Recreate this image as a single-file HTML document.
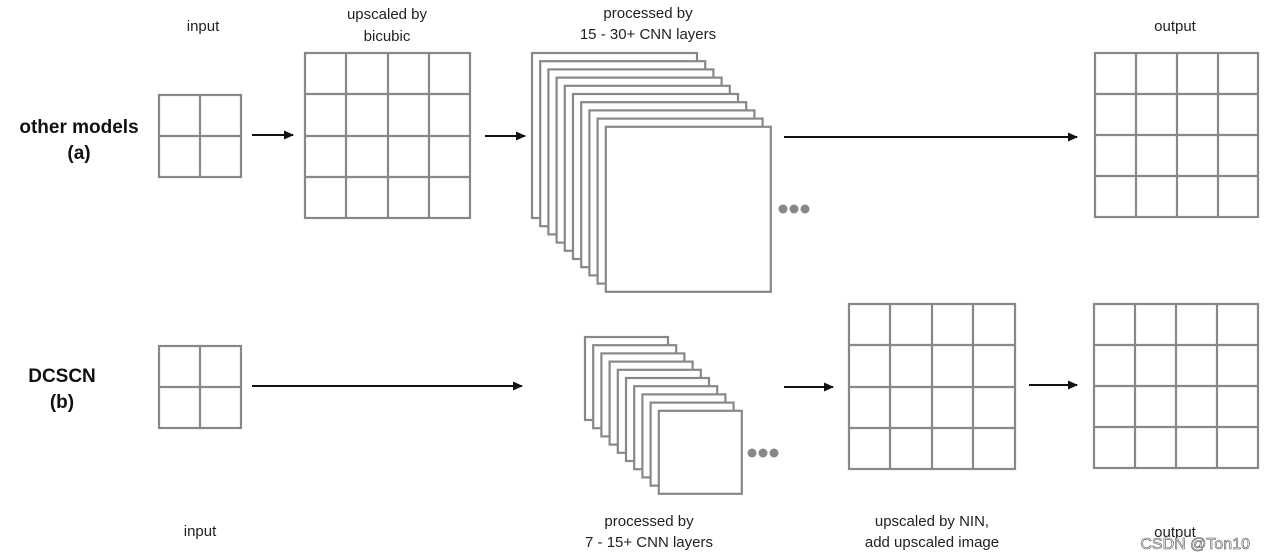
<!DOCTYPE html>
<html><head><style>
body{margin:0;background:#fff;}
svg{display:block;font-family:"Liberation Sans",sans-serif;}
</style></head><body>
<svg width="1267" height="560" viewBox="0 0 1267 560" xmlns="http://www.w3.org/2000/svg">
<defs>
<marker id="ah" markerWidth="10" markerHeight="10" refX="9" refY="5" orient="auto" markerUnits="userSpaceOnUse"><path d="M0,0.5 L10,5 L0,9.5 z" fill="#111"/></marker>
</defs>
<g fill="none" stroke="#888" stroke-width="2.2">
<!-- top input 2x2 -->
<rect x="159" y="95" width="82" height="82"/><line x1="200" y1="95" x2="200" y2="177"/><line x1="159" y1="136" x2="241" y2="136"/>
<!-- bottom input -->
<rect x="159" y="346" width="82" height="82"/><line x1="200" y1="346" x2="200" y2="428"/><line x1="159" y1="387" x2="241" y2="387"/>
<!-- upscaled 4x4 -->
<rect x="305" y="53" width="165" height="165"/>
<line x1="346" y1="53" x2="346" y2="218"/><line x1="388" y1="53" x2="388" y2="218"/><line x1="429" y1="53" x2="429" y2="218"/>
<line x1="305" y1="94" x2="470" y2="94"/><line x1="305" y1="136" x2="470" y2="136"/><line x1="305" y1="177" x2="470" y2="177"/>
<!-- top output -->
<rect x="1095" y="53" width="163" height="164"/>
<line x1="1136" y1="53" x2="1136" y2="217"/><line x1="1177" y1="53" x2="1177" y2="217"/><line x1="1218" y1="53" x2="1218" y2="217"/>
<line x1="1095" y1="94" x2="1258" y2="94"/><line x1="1095" y1="135" x2="1258" y2="135"/><line x1="1095" y1="176" x2="1258" y2="176"/>
<!-- NIN grid -->
<rect x="849" y="304" width="166" height="165"/>
<line x1="890" y1="304" x2="890" y2="469"/><line x1="932" y1="304" x2="932" y2="469"/><line x1="973" y1="304" x2="973" y2="469"/>
<line x1="849" y1="345" x2="1015" y2="345"/><line x1="849" y1="387" x2="1015" y2="387"/><line x1="849" y1="428" x2="1015" y2="428"/>
<!-- bottom output -->
<rect x="1094" y="304" width="164" height="164"/>
<line x1="1135" y1="304" x2="1135" y2="468"/><line x1="1176" y1="304" x2="1176" y2="468"/><line x1="1217" y1="304" x2="1217" y2="468"/>
<line x1="1094" y1="345" x2="1258" y2="345"/><line x1="1094" y1="386" x2="1258" y2="386"/><line x1="1094" y1="427" x2="1258" y2="427"/>
</g>
<!-- top stack -->
<g fill="#fff" stroke="#888" stroke-width="2.2">
<rect x="532" y="53" width="165" height="165"/>
<rect x="540.2" y="61.2" width="165" height="165"/>
<rect x="548.4" y="69.4" width="165" height="165"/>
<rect x="556.6" y="77.6" width="165" height="165"/>
<rect x="564.8" y="85.8" width="165" height="165"/>
<rect x="573" y="94" width="165" height="165"/>
<rect x="581.2" y="102.2" width="165" height="165"/>
<rect x="589.4" y="110.4" width="165" height="165"/>
<rect x="597.6" y="118.6" width="165" height="165"/>
<rect x="605.8" y="126.8" width="165" height="165"/>
</g>
<!-- bottom stack -->
<g fill="#fff" stroke="#888" stroke-width="2.2">
<rect x="585" y="337" width="83" height="83"/>
<rect x="593.2" y="345.2" width="83" height="83"/>
<rect x="601.4" y="353.4" width="83" height="83"/>
<rect x="609.6" y="361.6" width="83" height="83"/>
<rect x="617.8" y="369.8" width="83" height="83"/>
<rect x="626" y="378" width="83" height="83"/>
<rect x="634.2" y="386.2" width="83" height="83"/>
<rect x="642.4" y="394.4" width="83" height="83"/>
<rect x="650.6" y="402.6" width="83" height="83"/>
<rect x="658.8" y="410.8" width="83" height="83"/>
</g>
<g fill="#888">
<circle cx="783" cy="209" r="4.5"/><circle cx="794" cy="209" r="4.5"/><circle cx="805" cy="209" r="4.5"/>
<circle cx="752" cy="453" r="4.5"/><circle cx="763" cy="453" r="4.5"/><circle cx="774" cy="453" r="4.5"/>
</g>
<g stroke="#111" stroke-width="2" marker-end="url(#ah)">
<line x1="252" y1="135" x2="293" y2="135"/>
<line x1="485" y1="136" x2="525" y2="136"/>
<line x1="784" y1="137" x2="1077" y2="137"/>
<line x1="252" y1="386" x2="522" y2="386"/>
<line x1="784" y1="387" x2="833" y2="387"/>
<line x1="1029" y1="385" x2="1077" y2="385"/>
</g>
<g fill="#222" font-size="15" text-anchor="middle">
<text x="203" y="31">input</text>
<text x="387" y="19">upscaled by</text>
<text x="387" y="41">bicubic</text>
<text x="648" y="18">processed by</text>
<text x="648" y="39">15 - 30+ CNN layers</text>
<text x="1175" y="31">output</text>
<text x="200" y="536">input</text>
<text x="649" y="526">processed by</text>
<text x="649" y="547">7 - 15+ CNN layers</text>
<text x="932" y="526">upscaled by NIN,</text>
<text x="932" y="547">add upscaled image</text>
<text x="1175" y="537">output</text>
</g>
<g fill="#111" font-size="19" font-weight="bold" text-anchor="middle">
<text x="79" y="133">other models</text>
<text x="79" y="159">(a)</text>
<text x="62" y="382">DCSCN</text>
<text x="62" y="408">(b)</text>
</g>
<text x="1250" y="549" text-anchor="end" font-size="16" fill="#fff" stroke="#555" stroke-width="0.6">CSDN @Ton10</text>
</svg>
</body></html>
